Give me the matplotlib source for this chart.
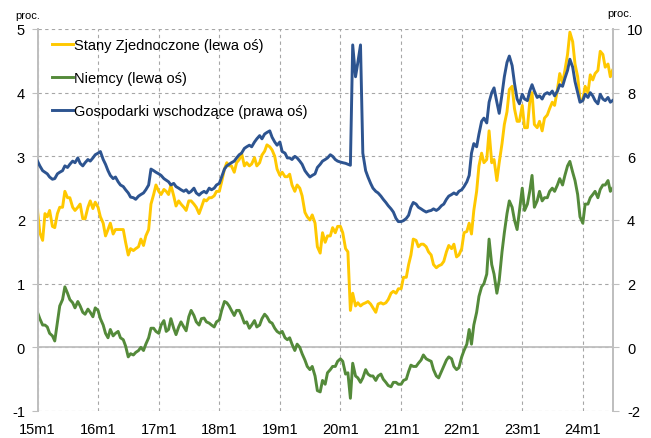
import numpy as np
import pandas as pd
import matplotlib
matplotlib.use("Agg")
import matplotlib.pyplot as plt


# ----------------------------
# Global plotting style
# ----------------------------
plt.rcParams["font.family"] = ["Liberation Sans", "DejaVu Sans"]
plt.rcParams["font.size"] = 10

# ----------------------------
# Data: 10y yields, values on the 1st and 15th of each month (proc.)
# ----------------------------
dates = list(pd.date_range("2015-01-01", "2024-06-15", freq="SMS")) + [pd.Timestamp("2024-06-28")]

us = [
    2.15, 1.80, 1.68, 2.10, 2.05, 2.15, 1.90, 1.88, 2.10, 2.20, 2.20, 2.45, 2.35, 2.35, 2.20, 2.15, 2.20, 2.25, 2.02, 2.02, 2.20, 2.30, 2.18, 2.28,
    2.20, 2.05, 1.95, 1.75, 1.85, 1.95, 1.78, 1.85, 1.85, 1.85, 1.85, 1.65, 1.45, 1.55, 1.52, 1.55, 1.58, 1.70, 1.60, 1.75, 1.85, 2.25, 2.40, 2.55,
    2.45, 2.40, 2.48, 2.45, 2.40, 2.55, 2.38, 2.22, 2.30, 2.25, 2.20, 2.15, 2.30, 2.30, 2.25, 2.20, 2.10, 2.20, 2.32, 2.30, 2.35, 2.35, 2.38, 2.45,
    2.45, 2.60, 2.80, 2.90, 2.85, 2.85, 2.75, 2.90, 2.95, 3.05, 2.85, 2.90, 2.85, 2.88, 2.98, 2.85, 2.90, 3.02, 3.08, 3.18, 3.15, 3.10, 3.00, 2.80,
    2.70, 2.75, 2.68, 2.68, 2.72, 2.55, 2.45, 2.55, 2.50, 2.38, 2.12, 2.05, 2.00, 2.08, 1.95, 1.58, 1.48, 1.80, 1.65, 1.75, 1.75, 1.88, 1.80, 1.90,
    1.90, 1.80, 1.55, 1.50, 0.58, 0.85, 0.65, 0.70, 0.65, 0.68, 0.70, 0.72, 0.68, 0.62, 0.55, 0.68, 0.70, 0.68, 0.70, 0.75, 0.85, 0.88, 0.85, 0.92,
    0.92, 1.10, 1.10, 1.30, 1.45, 1.70, 1.68, 1.58, 1.62, 1.62, 1.58, 1.50, 1.45, 1.30, 1.25, 1.28, 1.30, 1.35, 1.50, 1.60, 1.55, 1.62, 1.42, 1.45,
    1.55, 1.80, 1.82, 1.95, 1.78, 2.15, 2.45, 2.85, 3.05, 2.90, 2.95, 3.40, 2.90, 2.95, 2.62, 2.90, 3.20, 3.50, 3.70, 4.05, 4.10, 3.75, 3.55, 3.55,
    3.80, 3.45, 3.45, 3.85, 4.00, 3.50, 3.45, 3.55, 3.40, 3.60, 3.65, 3.75, 3.85, 3.80, 4.05, 4.30, 4.15, 4.35, 4.60, 4.95, 4.80, 4.45, 4.25, 3.90,
    3.88, 4.10, 4.00, 4.28, 4.20, 4.30, 4.35, 4.65, 4.60, 4.40, 4.45, 4.25, 4.35,
]

de = [
    0.55, 0.45, 0.35, 0.35, 0.32, 0.22, 0.18, 0.10, 0.40, 0.65, 0.75, 0.95, 0.85, 0.75, 0.70, 0.62, 0.72, 0.65, 0.55, 0.52, 0.60, 0.55, 0.48, 0.62,
    0.58, 0.45, 0.35, 0.22, 0.15, 0.28, 0.18, 0.22, 0.25, 0.15, 0.12, 0.02, -0.15, -0.10, -0.12, -0.08, -0.05, 0.00, -0.05, 0.05, 0.15, 0.30, 0.30, 0.25,
    0.22, 0.35, 0.42, 0.25, 0.28, 0.45, 0.30, 0.20, 0.32, 0.40, 0.32, 0.26, 0.48, 0.58, 0.50, 0.40, 0.35, 0.45, 0.46, 0.40, 0.38, 0.35, 0.32, 0.40,
    0.43, 0.58, 0.72, 0.70, 0.65, 0.58, 0.50, 0.58, 0.58, 0.50, 0.38, 0.40, 0.30, 0.35, 0.42, 0.32, 0.35, 0.45, 0.52, 0.48, 0.40, 0.38, 0.30, 0.25,
    0.22, 0.25, 0.15, 0.12, 0.15, 0.05, -0.05, 0.05, 0.00, -0.10, -0.20, -0.30, -0.35, -0.30, -0.45, -0.68, -0.70, -0.52, -0.58, -0.40, -0.35, -0.30, -0.30, -0.22,
    -0.18, -0.22, -0.42, -0.40, -0.80, -0.25, -0.45, -0.48, -0.55, -0.48, -0.35, -0.42, -0.45, -0.45, -0.52, -0.45, -0.42, -0.50, -0.55, -0.60, -0.62, -0.55, -0.55, -0.58,
    -0.58, -0.52, -0.50, -0.38, -0.28, -0.30, -0.30, -0.25, -0.20, -0.12, -0.18, -0.20, -0.22, -0.35, -0.45, -0.48, -0.38, -0.30, -0.20, -0.15, -0.18, -0.30, -0.35, -0.32,
    -0.15, -0.05, 0.05, 0.28, 0.05, 0.35, 0.55, 0.80, 0.95, 1.00, 1.15, 1.70, 1.30, 1.15, 0.85, 1.05, 1.50, 1.80, 2.10, 2.30, 2.20, 2.00, 1.85, 2.15,
    2.50, 2.15, 2.25, 2.45, 2.70, 2.20, 2.30, 2.45, 2.30, 2.35, 2.35, 2.45, 2.50, 2.45, 2.55, 2.65, 2.55, 2.70, 2.85, 2.92, 2.75, 2.62, 2.40, 2.05,
    1.95, 2.25, 2.25, 2.35, 2.40, 2.45, 2.35, 2.48, 2.55, 2.55, 2.62, 2.45, 2.50,
]

em = [
    5.85, 5.70, 5.55, 5.50, 5.45, 5.35, 5.28, 5.30, 5.45, 5.50, 5.55, 5.70, 5.65, 5.75, 5.85, 5.80, 5.95, 5.78, 5.70, 5.80, 5.90, 5.85, 5.95, 6.05,
    6.10, 6.15, 5.90, 5.75, 5.55, 5.40, 5.30, 5.35, 5.20, 5.10, 5.05, 4.95, 4.85, 4.72, 4.70, 4.65, 4.75, 4.80, 4.85, 4.95, 5.10, 5.60, 5.55, 5.50,
    5.45, 5.40, 5.30, 5.25, 5.20, 5.10, 5.15, 5.05, 5.00, 4.95, 4.90, 4.95, 4.85, 4.90, 5.00, 4.85, 4.78, 4.85, 4.90, 4.85, 5.00, 4.95, 5.00, 5.10,
    5.15, 5.35, 5.60, 5.70, 5.75, 5.80, 5.85, 5.95, 6.05, 6.10, 6.25, 6.30, 6.35, 6.30, 6.45, 6.55, 6.65, 6.55, 6.70, 6.75, 6.80, 6.60, 6.45, 6.35,
    6.45, 6.15, 6.10, 5.95, 5.95, 5.90, 6.00, 5.95, 5.85, 5.75, 5.55, 5.45, 5.35, 5.40, 5.45, 5.65, 5.75, 5.85, 5.90, 5.95, 6.05, 6.00, 5.90, 5.85,
    5.82, 5.80, 5.78, 5.75, 5.72, 9.50, 8.50, 8.95, 9.50, 6.10, 5.55, 5.35, 5.15, 5.00, 4.90, 4.85, 4.75, 4.65, 4.55, 4.45, 4.35, 4.25, 4.05, 3.95,
    3.95, 3.98, 4.05, 4.15, 4.40, 4.55, 4.50, 4.40, 4.35, 4.30, 4.25, 4.28, 4.30, 4.35, 4.30, 4.35, 4.45, 4.50, 4.65, 4.75, 4.80, 4.85, 4.80, 4.90,
    4.95, 5.05, 5.20, 5.40, 6.10, 6.40, 6.30, 6.70, 7.10, 7.20, 7.05, 7.70, 8.00, 8.15, 7.70, 7.35, 7.95, 8.50, 8.95, 9.15, 8.85, 8.30, 7.80, 7.65,
    7.95, 7.80, 7.75, 8.05, 8.25, 8.05, 7.85, 7.90, 7.80, 7.95, 8.00, 7.95, 8.05, 7.90, 8.05, 8.25, 8.20, 8.45, 8.70, 9.05, 8.80, 8.35, 8.00, 7.70,
    7.75, 7.95, 7.85, 8.00, 7.90, 7.75, 7.65, 7.95, 7.80, 7.75, 7.85, 7.70, 7.75,
]

year_ticks = [pd.Timestamp(f"{y}-01-01") for y in range(2015, 2025)]
year_labels = [f"{y % 100}m1" for y in range(2015, 2025)]
left_ticks = [-1, 0, 1, 2, 3, 4, 5]
right_ticks = [-2, 0, 2, 4, 6, 8, 10]

labels = ["Stany Zjednoczone (lewa oś)", "Niemcy (lewa oś)", "Gospodarki wschodzące (prawa oś)"]
colors = ["#FFC800", "#548A3A", "#2D5490"]

grid_col = "#A6A6A6"
axis_col = "#BFBFBF"

fig = plt.figure(figsize=(6.51, 4.39), dpi=100)
ax = fig.add_axes([37.5 / 651, 1 - 412 / 439, (613 - 37.5) / 651, 382 / 439])
ax2 = ax.twinx()

l1, = ax.plot(dates, us, color=colors[0], linewidth=2.1, label=labels[0], zorder=3)
l2, = ax.plot(dates, de, color=colors[1], linewidth=2.1, label=labels[1], zorder=3)
l3, = ax2.plot(dates, em, color=colors[2], linewidth=2.1, label=labels[2], zorder=3)

ax.set_xlim(pd.Timestamp("2015-01-01"), pd.Timestamp("2024-07-01"))
ax.set_ylim(-1, 5)
ax2.set_ylim(-2, 10)

ax.set_xticks(year_ticks)
ax.set_xticklabels(year_labels)
ax.set_yticks(left_ticks)
ax.set_yticklabels([str(v) for v in left_ticks])
ax2.set_yticks(right_ticks)
ax2.set_yticklabels([str(v) for v in right_ticks])

ax.grid(True, color=grid_col, linestyle=(0, (3, 3)), linewidth=0.8)
ax.axhline(0, color=axis_col, linewidth=1.3, zorder=2)

for a in (ax, ax2):
    for side in ("top", "bottom"):
        a.spines[side].set_visible(False)
    for side in ("left", "right"):
        a.spines[side].set_color(axis_col)
        a.spines[side].set_linewidth(1.3)

ax.tick_params(axis="y", length=4, color=axis_col, pad=5, labelsize=10.5)
ax2.tick_params(axis="y", length=4, color=axis_col, pad=6, labelsize=10.5)
ax.tick_params(axis="x", length=0, pad=8, labelsize=10.5)

ax2.legend(
    [l1, l2, l3], labels,
    loc="upper left", bbox_to_anchor=(0.026, 0.977),
    frameon=False, borderaxespad=0, borderpad=0,
    handlelength=1.4, handletextpad=0.1, labelspacing=1.3, fontsize=10.5,
)

fig.text(15 / 651, 1 - 16 / 439, "proc.", fontsize=8, va="center", ha="left")
fig.text(607 / 651, 1 - 14 / 439, "proc.", fontsize=8, va="center", ha="left")

plt.savefig("out.png", dpi=100)
plt.close(fig)
